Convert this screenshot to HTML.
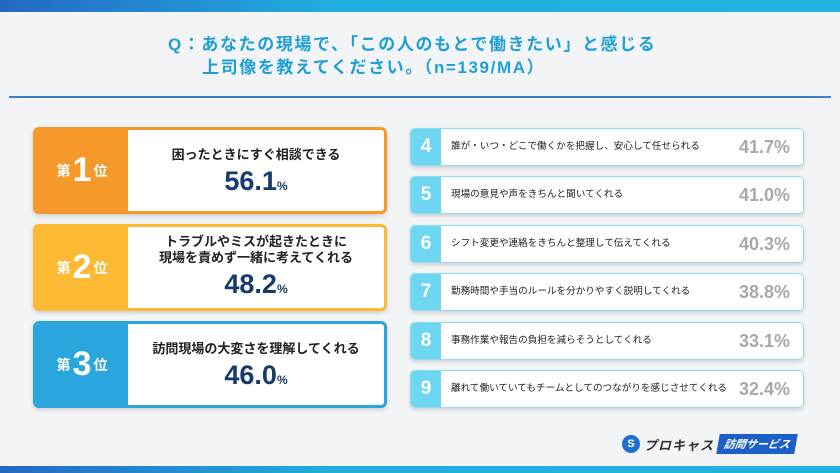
<!DOCTYPE html><html><head><meta charset="utf-8"><style>
*{margin:0;padding:0;box-sizing:border-box}
body{width:840px;height:473px;background:#f3f4f6;position:relative;overflow:hidden;font-family:"Liberation Sans","Noto Sans CJK JP",sans-serif}
.top{position:absolute;left:0;top:0;width:840px;height:12px;background:linear-gradient(90deg,#2468c4,#22aee0 40%,#22b4e0)}
.bot{position:absolute;left:0;bottom:0;width:840px;height:7px;background:linear-gradient(90deg,#2468c4,#22aee0 40%,#22b4e0)}
.title{position:absolute;top:33px;left:0;width:840px;color:#1f9fd6;font-weight:bold;font-size:17px;line-height:23px;letter-spacing:1.6px;white-space:nowrap}
.hr{position:absolute;left:9px;top:96px;width:822px;height:1.5px;background:#3a7fc4}
.lc{position:absolute;left:33px;width:354px;height:87px;border-radius:6px;border:3px solid;background:#fff;box-shadow:0 2px 4px rgba(0,0,0,.15);overflow:hidden}
.lc .lab{position:absolute;left:0;top:0;bottom:0;width:92px;color:#fff;font-weight:bold;display:flex;align-items:center;justify-content:center;font-size:14px}
.lc .lab b{font-size:34px;margin:0 2px}
.lc .t{position:absolute;left:92px;right:0;text-align:center;font-size:13px;font-weight:bold;color:#222;line-height:16px}
.lc .p{position:absolute;left:92px;right:0;text-align:center;font-size:27px;font-weight:bold;color:#173b6b}
.lc .p small{font-size:12px}
.rc{position:absolute;left:410px;width:394px;height:38px;background:#fff;border:1.5px solid #8fdcf0;border-radius:5px;box-shadow:0 2px 4px rgba(0,0,0,.15);overflow:hidden}
.rc .n{position:absolute;left:0;top:0;bottom:0;width:30px;background:#6fd6f2;color:#fff;font-weight:bold;font-size:19px;text-align:center;line-height:36px}
.rc .t{position:absolute;left:40px;top:0;line-height:36px;font-size:9.6px;color:#222}
.rc .p{position:absolute;right:13px;top:0;line-height:36px;font-size:18px;font-weight:bold;color:#a8a8a8}
.logo{position:absolute;left:622px;top:434px;display:flex;align-items:center;gap:4px}
</style></head><body>
<div class="top"></div>
<div class="title"><div style="padding-left:168px">Q：あなたの現場で、「この人のもとで働きたい」と感じる</div><div style="padding-left:202px">上司像を教えてください。（n=139/MA）</div></div>
<div class="hr"></div>

<div class="lc" style="top:127px;border-color:#f7982a"><div class="lab" style="background:#f7982a">第<b>1</b>位</div><div class="t" style="top:17px">困ったときにすぐ相談できる</div><div class="p" style="top:36px">56.1<small>%</small></div></div>
<div class="lc" style="top:224px;border-color:#fbb934"><div class="lab" style="background:#fbb934">第<b>2</b>位</div><div class="t" style="top:7px">トラブルやミスが起きたときに<br>現場を責めず一緒に考えてくれる</div><div class="p" style="top:42px">48.2<small>%</small></div></div>
<div class="lc" style="top:321px;border-color:#2aa5dd"><div class="lab" style="background:#2aa5dd">第<b>3</b>位</div><div class="t" style="top:17px">訪問現場の大変さを理解してくれる</div><div class="p" style="top:36px">46.0<small>%</small></div></div>

<div class="rc" style="top:128px"><div class="n">4</div><div class="t">誰が・いつ・どこで働くかを把握し、安心して任せられる</div><div class="p">41.7%</div></div>
<div class="rc" style="top:176px"><div class="n">5</div><div class="t">現場の意見や声をきちんと聞いてくれる</div><div class="p">41.0%</div></div>
<div class="rc" style="top:225px"><div class="n">6</div><div class="t">シフト変更や連絡をきちんと整理して伝えてくれる</div><div class="p">40.3%</div></div>
<div class="rc" style="top:273px"><div class="n">7</div><div class="t">勤務時間や手当のルールを分かりやすく説明してくれる</div><div class="p">38.8%</div></div>
<div class="rc" style="top:322px"><div class="n">8</div><div class="t">事務作業や報告の負担を減らそうとしてくれる</div><div class="p">33.1%</div></div>
<div class="rc" style="top:370px"><div class="n">9</div><div class="t">離れて働いていてもチームとしてのつながりを感じさせてくれる</div><div class="p">32.4%</div></div>

<div class="logo"><div style="width:18px;height:18px;border-radius:50%;background:#1f6fd0;color:#fff;font-size:11px;font-weight:bold;text-align:center;line-height:18px">S</div><span style="font-size:13px;font-weight:bold;font-style:italic;color:#333;letter-spacing:1px">プロキャス</span><span style="background:#1c5fc8;color:#fff;font-size:11px;font-weight:bold;font-style:italic;padding:2px 6px;transform:skewX(-10deg)">訪問サービス</span></div>
<div class="bot"></div>
</body></html>
